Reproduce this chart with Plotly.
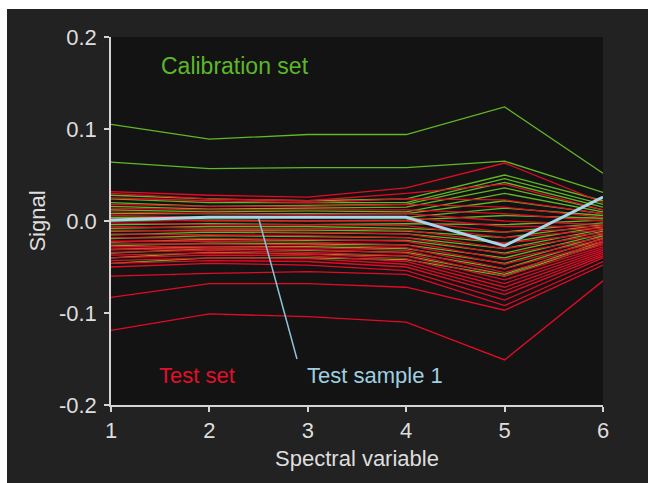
import plotly.graph_objects as go

x_vars = [1, 2, 3, 4, 5, 6]

calibration = [
    [0.105, 0.089, 0.094, 0.094, 0.124, 0.052],
    [0.064, 0.057, 0.058, 0.058, 0.065, 0.031],
    [0.028, 0.024, 0.022, 0.024, 0.050, 0.022],
    [0.024, 0.020, 0.020, 0.020, 0.046, 0.018],
    [0.020, 0.016, 0.017, 0.018, 0.042, 0.015],
    [0.016, 0.013, 0.014, 0.015, 0.036, 0.012],
    [0.012, 0.010, 0.011, 0.010, 0.030, 0.010],
    [0.008, 0.008, 0.008, 0.008, 0.022, 0.008],
    [0.004, 0.004, 0.004, 0.004, 0.014, 0.006],
    [0.000, 0.001, 0.000, 0.001, 0.006, 0.003],
    [-0.004, -0.003, -0.004, -0.003, -0.004, 0.001],
    [-0.008, -0.006, -0.006, -0.008, -0.012, -0.002],
    [-0.011, -0.010, -0.010, -0.011, -0.018, -0.004],
    [-0.015, -0.012, -0.013, -0.014, -0.024, -0.006],
    [-0.019, -0.016, -0.017, -0.018, -0.030, -0.009],
    [-0.023, -0.020, -0.021, -0.021, -0.035, -0.011],
    [-0.027, -0.024, -0.025, -0.026, -0.040, -0.014],
    [-0.031, -0.028, -0.028, -0.030, -0.046, -0.016],
    [-0.035, -0.030, -0.032, -0.034, -0.052, -0.019],
    [-0.040, -0.034, -0.036, -0.038, -0.058, -0.022],
    [-0.046, -0.040, -0.040, -0.042, -0.060, -0.024],
]

test_set = [
    [0.032, 0.028, 0.026, 0.036, 0.063, 0.020],
    [0.030, 0.024, 0.022, 0.030, 0.040, 0.012],
    [0.025, 0.022, 0.020, 0.024, 0.023, 0.008],
    [0.018, 0.016, 0.016, 0.018, 0.015, 0.004],
    [0.014, 0.012, 0.012, 0.012, 0.008, 0.000],
    [0.010, 0.008, 0.007, 0.008, 0.000, -0.004],
    [0.006, 0.004, 0.004, 0.004, -0.006, -0.006],
    [0.002, 0.000, 0.000, 0.000, -0.012, -0.008],
    [-0.002, -0.004, -0.004, -0.005, -0.018, -0.010],
    [-0.006, -0.008, -0.008, -0.010, -0.024, -0.013],
    [-0.010, -0.011, -0.012, -0.014, -0.030, -0.015],
    [-0.014, -0.015, -0.016, -0.018, -0.036, -0.018],
    [-0.018, -0.019, -0.020, -0.022, -0.042, -0.020],
    [-0.022, -0.022, -0.023, -0.026, -0.047, -0.022],
    [-0.025, -0.025, -0.026, -0.029, -0.052, -0.024],
    [-0.028, -0.028, -0.029, -0.032, -0.056, -0.026],
    [-0.031, -0.030, -0.031, -0.035, -0.060, -0.028],
    [-0.034, -0.032, -0.034, -0.038, -0.064, -0.030],
    [-0.037, -0.035, -0.036, -0.041, -0.068, -0.032],
    [-0.040, -0.037, -0.038, -0.044, -0.072, -0.034],
    [-0.043, -0.040, -0.041, -0.047, -0.076, -0.036],
    [-0.046, -0.043, -0.044, -0.050, -0.080, -0.038],
    [-0.050, -0.046, -0.048, -0.054, -0.086, -0.040],
    [-0.060, -0.057, -0.055, -0.058, -0.092, -0.044],
    [-0.083, -0.068, -0.068, -0.072, -0.097, -0.048],
    [-0.119, -0.101, -0.104, -0.110, -0.151, -0.065],
]

test_sample_1 = [0.001, 0.004, 0.004, 0.004, -0.027, 0.026]

pointer_x = [2.50, 2.89]
pointer_y = [0.003, -0.150]

y_ticks = [0.2, 0.1, 0.0, -0.1, -0.2]
y_tick_text = ["0.2", "0.1", "0.0", "-0.1", "-0.2"]

GREEN = "#62b824"
RED = "#e30a26"
BLUE = "#a8d6e8"
FONT = "Liberation Sans, Arial, sans-serif"
TXT = "#dedede"

fig = go.Figure()
for row in calibration:
    fig.add_trace(go.Scatter(x=x_vars, y=row, mode="lines",
                             line=dict(color=GREEN, width=1.3), hoverinfo="skip"))
for row in test_set:
    fig.add_trace(go.Scatter(x=x_vars, y=row, mode="lines",
                             line=dict(color=RED, width=1.3), hoverinfo="skip"))
fig.add_trace(go.Scatter(x=x_vars, y=test_sample_1, mode="lines",
                         line=dict(color=BLUE, width=3)))
fig.add_trace(go.Scatter(x=pointer_x, y=pointer_y, mode="lines",
                         line=dict(color="#8cc2d6", width=1.5)))

fig.add_annotation(x=1.49, y=0.168, text="Calibration set", showarrow=False,
                   xanchor="left", yanchor="middle", font=dict(color="#5cb82a", size=23, family=FONT))
fig.add_annotation(x=1.47, y=-0.168, text="Test set", showarrow=False,
                   xanchor="left", yanchor="middle", font=dict(color="#e0102a", size=22, family=FONT))
fig.add_annotation(x=2.97, y=-0.168, text="Test sample 1", showarrow=False,
                   xanchor="left", yanchor="middle", font=dict(color="#9fcfe0", size=22, family=FONT))

W, H = 648, 483
L, R, T, B = 111, 45, 37, 78
pw, ph = W - L - R, H - T - B
# white strips outside the dark panel (left 7px, top 9px)
fig.add_shape(type="rect", xref="paper", yref="paper", layer="above",
              x0=(0 - L) / pw, x1=(7 - L) / pw, y0=(H - B - H) / ph, y1=(H - B) / ph,
              fillcolor="white", line=dict(width=0))
fig.add_shape(type="rect", xref="paper", yref="paper", layer="above",
              x0=(0 - L) / pw, x1=(W - L) / pw, y0=(H - B - 9) / ph, y1=(H - B) / ph,
              fillcolor="white", line=dict(width=0))

axis_common = dict(showgrid=False, zeroline=False, showline=True, linecolor="#d4d4d4",
                   linewidth=1.5, ticks="outside", ticklen=5, tickwidth=1.5,
                   tickcolor="#d4d4d4", tickfont=dict(color=TXT, size=22, family=FONT),
                   mirror=False)
fig.update_layout(
    width=W, height=H, margin=dict(l=L, r=R, t=T, b=B, autoexpand=False),
    paper_bgcolor="#222222", plot_bgcolor="#131313", showlegend=False,
    xaxis=dict(range=[1, 6], tickvals=x_vars, ticklabelstandoff=0,
               title=dict(text="Spectral variable", font=dict(color=TXT, size=22, family=FONT), standoff=8),
               **axis_common),
    yaxis=dict(range=[-0.2, 0.2], tickvals=y_ticks, ticktext=y_tick_text, ticklabelstandoff=3,
               title=dict(text="Signal", font=dict(color=TXT, size=22, family=FONT), standoff=7),
               **axis_common),
)
fig.write_html("out.html")
